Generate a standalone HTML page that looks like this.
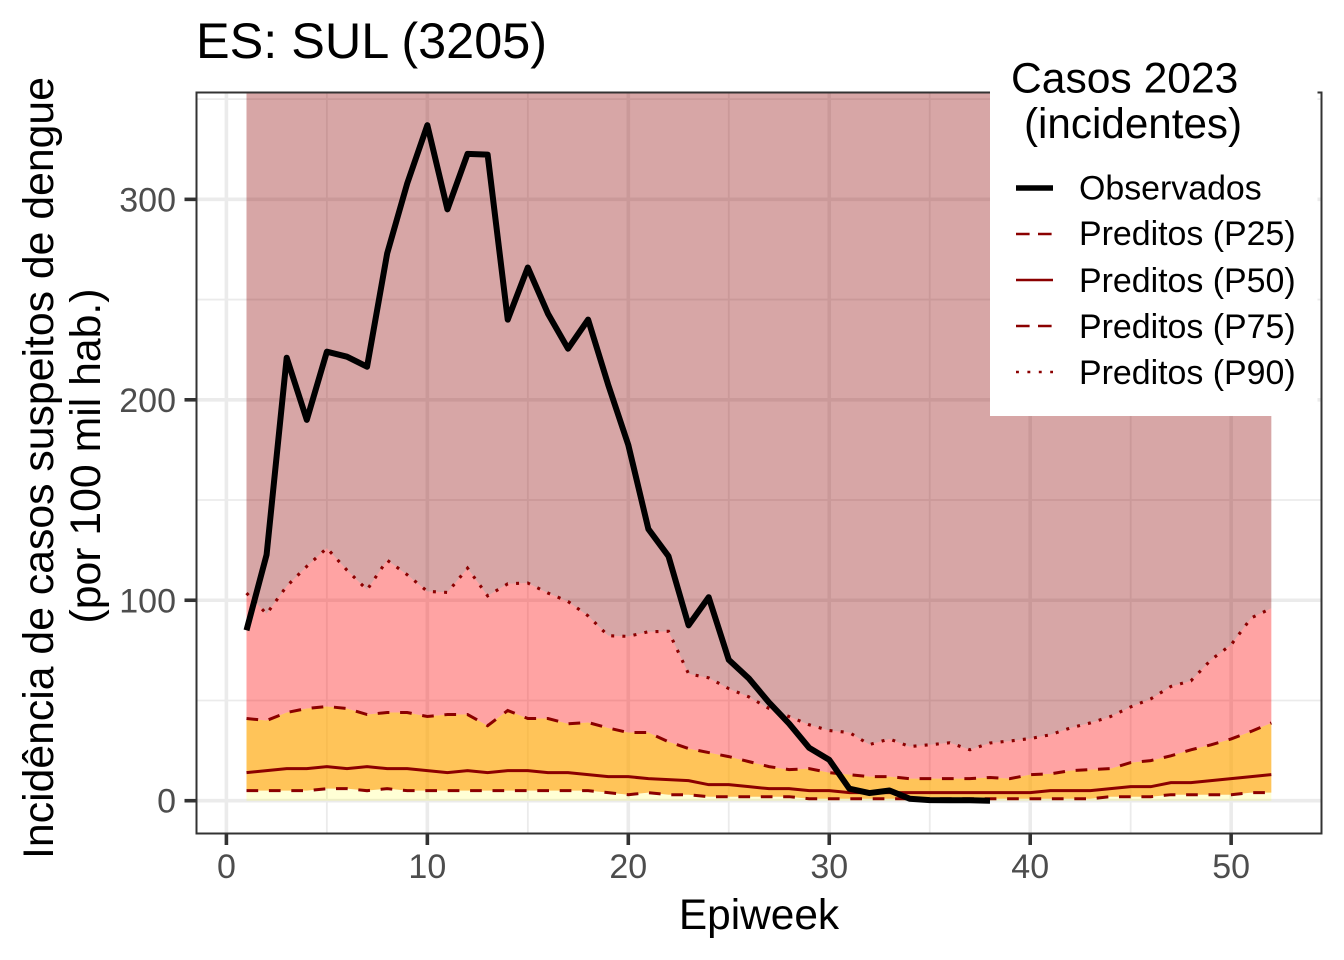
<!DOCTYPE html>
<html lang="pt">
<head>
<meta charset="utf-8">
<title>ES: SUL (3205)</title>
<style>
  html, body { margin: 0; padding: 0; background: #ffffff; }
  svg { display: block; font-family: "Liberation Sans", Arial, sans-serif; }
</style>
</head>
<body>
<svg id="chart" width="1344" height="960" viewBox="0 0 1344 960" xmlns="http://www.w3.org/2000/svg">
  <defs>
    <clipPath id="panel-clip"><rect x="196.5" y="92.5" width="1125" height="741"></rect></clipPath>
  </defs>
  <rect x="0" y="0" width="1344" height="960" fill="#ffffff"></rect>
  <g id="grid"></g>
  <g id="bands" clip-path="url(#panel-clip)"></g>
  <g id="lines" clip-path="url(#panel-clip)"></g>
  <rect x="196.5" y="92.5" width="1125" height="741" fill="none" stroke="#333333" stroke-width="2"></rect>
  <g id="ticks"></g>

  <text x="196" y="58" font-size="50.4" fill="#000000">ES: SUL (3205)</text>
  <text x="759" y="929" font-size="42.4" fill="#000000" text-anchor="middle">Epiweek</text>
  <text x="53" y="468" font-size="42.75" fill="#000000" text-anchor="middle" transform="rotate(-90 53 468)">Incidência de casos suspeitos de dengue</text>
  <text x="100" y="456" font-size="42.75" fill="#000000" text-anchor="middle" transform="rotate(-90 100 456)">(por 100 mil hab.)</text>

  <g>
    <rect x="990" y="50" width="327.5" height="366" fill="#ffffff"></rect>
    <text x="1011" y="92.5" font-size="42.6" fill="#000000">Casos 2023</text>
    <text x="1024" y="138" font-size="42.2" fill="#000000">(incidentes)</text>

    <line x1="1016" y1="188" x2="1053" y2="188" stroke="#000000" stroke-width="5.4"></line>
    <text x="1079" y="199.5" font-size="33.9" fill="#000000">Observados</text>

    <line x1="1016" y1="234" x2="1053" y2="234" stroke="#8b0000" stroke-width="2.4" stroke-dasharray="13.6 8.4"></line>
    <text x="1079" y="245" font-size="33.9" fill="#000000">Preditos (P25)</text>

    <line x1="1016" y1="280" x2="1053" y2="280" stroke="#8b0000" stroke-width="2.4"></line>
    <text x="1079" y="292" font-size="33.9" fill="#000000">Preditos (P50)</text>

    <line x1="1016" y1="326" x2="1053" y2="326" stroke="#8b0000" stroke-width="2.4" stroke-dasharray="13.6 8.4"></line>
    <text x="1079" y="338" font-size="33.9" fill="#000000">Preditos (P75)</text>

    <line x1="1016" y1="372" x2="1053" y2="372" stroke="#8b0000" stroke-width="2.6" stroke-dasharray="2.9 8.5"></line>
    <text x="1079" y="384" font-size="33.9" fill="#000000">Preditos (P90)</text>
  </g>
</svg>

<script>
const weeks = [1,2,3,4,5,6,7,8,9,10,11,12,13,14,15,16,17,18,19,20,21,22,23,24,25,26,27,28,29,30,31,32,33,34,35,36,37,38,39,40,41,42,43,44,45,46,47,48,49,50,51,52];
const observed = [85,122.7,221,190,224,221.5,216.5,273,308,337,295,322.7,322.3,240,266,243,225.5,240,207.5,177.5,135.5,122,87.5,101.5,70.3,61,49,38.5,26.4,20.4,6,3.8,5.1,1,0.3,0.2,0.2,0];
const p25 = [5,5,5,5,6,6,5,6,5,5,5,5,5,5,5,5,5,5,4,3,4,3,3,2,2,2,2,2,1,1,1,1,1,1,1,1,1,1,1,1,1,1,1,2,2,2,3,3,3,3,4,4];
const p50 = [14,15,16,16,17,16,17,16,16,15,14,15,14,15,15,14,14,13,12,12,11,10.5,10,8,8,7,6,6,5,5,4,4,4,4,4,4,4,4,4,4,5,5,5,6,7,7,9,9,10,11,12,13];
const p75 = [41,40,44,46,47,46,43,44,44,42,43,43,37.4,45,41,41,38.4,39,36.3,34,34,29.4,26,24,22,19.5,17,15.5,16,14,13,12,12,11,11,11,11,11.6,11,13,13.4,15,15.5,16,19,20,22.4,25.4,27.9,30.8,34.6,38.8];
const p90 = [103.6,93.2,107,116.9,126,115,105.2,120,112.7,104.4,103.9,116,102.2,108.2,108.6,103.6,99.4,92.2,82.3,82,84.3,84.5,63.3,61.3,55.9,51.8,46,42,37.9,35,34,28,30.8,27,27.9,28.9,25.4,28.8,29.8,31,32.9,36.3,38.8,42,46.8,50.8,57,59.8,70.3,77.8,91.2,96];
const xTickValues = [0,10,20,30,40,50];
const xMinorValues = [5,15,25,35,45];
const yTickValues = [0,100,200,300];
const yMinorValues = [50,150,250,350];
const xTickLabels = ["0","10","20","30","40","50"];
const yTickLabels = ["0","100","200","300"];

const SVG_NS = "http://www.w3.org/2000/svg";
const xScale = v => 226.4 + v * 20.095;
const yScale = v => 800.7 - v * 2.0045;
const PANEL = { left: 196.5, right: 1321.5, top: 92.5, bottom: 833.5 };
const YTOP = 360;

function make(tag, attrs, parent) {
  const el = document.createElementNS(SVG_NS, tag);
  Object.keys(attrs).forEach(k => el.setAttribute(k, attrs[k]));
  parent.appendChild(el);
  return el;
}

function linePoints(values) {
  return values.map((v, i) => xScale(weeks[i]).toFixed(2) + "," + yScale(v).toFixed(2)).join(" ");
}

function bandPoints(lower, upper) {
  const top = weeks.map((w, i) => xScale(w).toFixed(2) + "," + yScale(upper(i)).toFixed(2));
  const bottom = weeks.map((w, i) => xScale(w).toFixed(2) + "," + yScale(lower(i)).toFixed(2)).reverse();
  return top.concat(bottom).join(" ");
}

const gridGroup = document.getElementById("grid");
const bandGroup = document.getElementById("bands");
const lineGroup = document.getElementById("lines");
const tickGroup = document.getElementById("ticks");

xMinorValues.forEach(v => {
  const el = make("line", { x1: xScale(v), x2: xScale(v), y1: PANEL.top, y2: PANEL.bottom, stroke: "#ebebeb", "stroke-width": 1.8 }, gridGroup);
  
  
});
yMinorValues.forEach(v => {
  const el = make("line", { x1: PANEL.left, x2: PANEL.right, y1: yScale(v), y2: yScale(v), stroke: "#ebebeb", "stroke-width": 1.8 }, gridGroup);
  
  
});
xTickValues.forEach(v => {
  const el = make("line", { x1: xScale(v), x2: xScale(v), y1: PANEL.top, y2: PANEL.bottom, stroke: "#ebebeb", "stroke-width": 3.6 }, gridGroup);
  
  
});
yTickValues.forEach(v => {
  const el = make("line", { x1: PANEL.left, x2: PANEL.right, y1: yScale(v), y2: yScale(v), stroke: "#ebebeb", "stroke-width": 3.6 }, gridGroup);
  
  
});

const bandBelow25 = make("polygon", { points: bandPoints(() => 0, i => p25[i]), fill: "#ffff00", "fill-opacity": 0.165 }, bandGroup);



const band25to75 = make("polygon", { points: bandPoints(i => p25[i], i => p75[i]), fill: "#ffa500", "fill-opacity": 0.65 }, bandGroup);



const band75to90 = make("polygon", { points: bandPoints(i => p75[i], i => p90[i]), fill: "#ff0000", "fill-opacity": 0.36 }, bandGroup);



const bandAbove90 = make("polygon", { points: bandPoints(i => p90[i], () => YTOP), fill: "#8b0000", "fill-opacity": 0.35 }, bandGroup);



const lineP25 = make("polyline", { points: linePoints(p25), fill: "none", stroke: "#8b0000", "stroke-width": 3, "stroke-dasharray": "11.7 10.7" }, lineGroup);



const lineP50 = make("polyline", { points: linePoints(p50), fill: "none", stroke: "#8b0000", "stroke-width": 3 }, lineGroup);



const lineP75 = make("polyline", { points: linePoints(p75), fill: "none", stroke: "#8b0000", "stroke-width": 3, "stroke-dasharray": "11.7 10.7" }, lineGroup);



const lineP90 = make("polyline", { points: linePoints(p90), fill: "none", stroke: "#8b0000", "stroke-width": 3.1, "stroke-dasharray": "3 8.2" }, lineGroup);



const lineObserved = make("polyline", { points: linePoints(observed), fill: "none", stroke: "#000000", "stroke-width": 6, "stroke-linejoin": "round" }, lineGroup);



xTickValues.forEach((v, i) => {
  const tick = make("line", { x1: xScale(v), x2: xScale(v), y1: PANEL.bottom, y2: 845, stroke: "#333333", "stroke-width": 3.6 }, tickGroup);
  
  
  const label = make("text", { x: xScale(v), y: 878, "text-anchor": "middle", "font-size": 34, fill: "#4d4d4d" }, tickGroup);
  
  
  label.textContent = xTickLabels[i];
});
yTickValues.forEach((v, i) => {
  const tick = make("line", { x1: 184.5, x2: PANEL.left, y1: yScale(v), y2: yScale(v), stroke: "#333333", "stroke-width": 3.6 }, tickGroup);
  
  
  const label = make("text", { x: 176, y: yScale(v) + 12, "text-anchor": "end", "font-size": 34, fill: "#4d4d4d" }, tickGroup);
  
  
  label.textContent = yTickLabels[i];
});
</script>
</body>
</html>
